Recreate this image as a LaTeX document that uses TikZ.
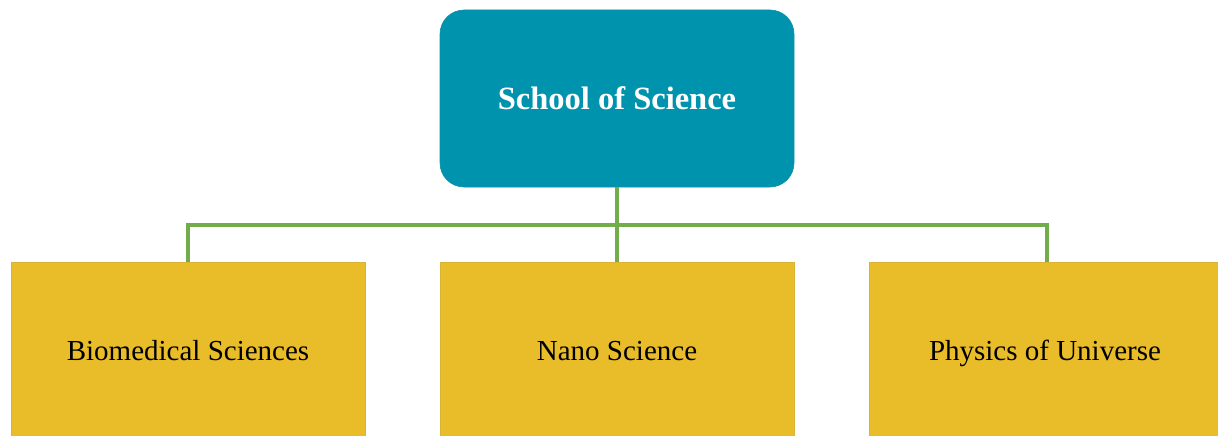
\documentclass[tikz,border=0pt]{standalone}
\usepackage{fontspec}
\setmainfont{Liberation Serif}
\definecolor{teal1}{HTML}{0093AE}
\definecolor{gold1}{HTML}{E9BC29}
\definecolor{green1}{HTML}{72AD4B}
\begin{document}
\begin{tikzpicture}[x=1pt,y=-1pt,
  topbox/.style={fill=teal1, draw=teal1!90!gray, line width=0.6pt, rounded corners=24pt, minimum width=354pt, minimum height=177pt, inner sep=0pt, text height=28pt, text depth=5pt, text=white, font=\fontsize{32.5}{36}\selectfont\bfseries},
  subbox/.style={fill=gold1, draw=gold1!85!gray, line width=0.6pt, minimum width=354pt, minimum height=174pt, inner sep=0pt, text height=26pt, text depth=4pt, text=black, font=\fontsize{29}{32}\selectfont},
  conn/.style={draw=green1, line width=4pt}]
\useasboundingbox (0,0) rectangle (1218,436);
\node[topbox] (top) at (617,98.5) {School of Science};
\node[subbox] (bio) at (188,349) {Biomedical Sciences};
\node[subbox] (nano) at (617,349) {Nano Science};
\node[subbox, minimum width=352pt] (phys) at (1045,349) {Physics of Universe};
\coordinate (bar) at (617,225);
\coordinate (physc) at (1047,262);
\draw[conn] (top.south) -- (nano.north);
\draw[conn] (bio.north) |- (bar) -| (physc);
\end{tikzpicture}
\end{document}
